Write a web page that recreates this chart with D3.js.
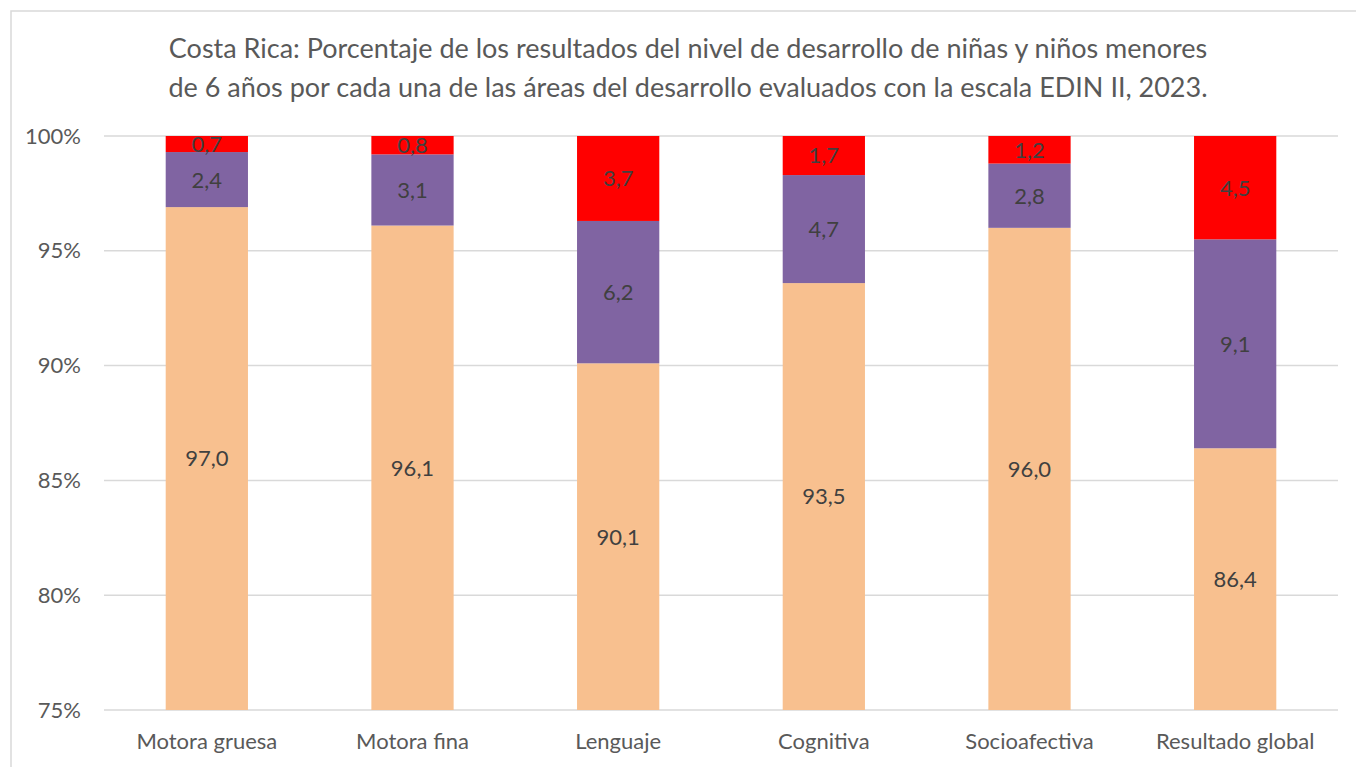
<!DOCTYPE html>
<html><head><meta charset="utf-8">
<script src="https://cdn.jsdelivr.net/npm/d3@7"></script>
<style>body{margin:0;background:#fff;}svg{display:block;font-family:Lato, "Open Sans", sans-serif;}</style>
</head><body>
<svg id="c" width="1356" height="767"></svg>
<script>
const categories = ["Motora gruesa","Motora fina","Lenguaje","Cognitiva","Socioafectiva","Resultado global"];
const seriesNames = ["Adecuado","Intermedio","Bajo"];
const adecuado = [97.0, 96.1, 90.1, 93.5, 96.0, 86.4];
const intermedio = [2.4, 3.1, 6.2, 4.7, 2.8, 9.1];
const bajo = [0.7, 0.8, 3.7, 1.7, 1.2, 4.5];
const colors = ["#F8C08F","#8064A2","#FF0000"];
const yTicks = [75, 80, 85, 90, 95, 100];
const titleLines = ["Costa Rica: Porcentaje de los resultados del nivel de desarrollo de niñas y niños menores",
                    "de 6 años por cada una de las áreas del desarrollo evaluados con la escala EDIN II, 2023."];

(function(){
const svg = d3.select("#c");
svg.append("rect").attr("x",11).attr("y",11).attr("width",1400).attr("height",800)
  .attr("fill","none").attr("stroke","#d9d9d9").attr("stroke-width",1.5);

const pl = 104, pr = 1338, pt = 136, pb = 710;
const x = d3.scaleBand().domain(categories).range([pl,pr]).paddingInner(0.6).paddingOuter(0.3);
const y = d3.scaleLinear().domain([75,100]).range([pb,pt]);

svg.append("text").attr("text-anchor","middle").attr("fill","#595959")
  .attr("font-size",27)
  .selectAll("tspan").data(titleLines).join("tspan")
  .attr("x",688).attr("y",(d,i)=>57.5+i*39).text(d=>d);

svg.append("g").selectAll("line").data(yTicks).join("line")
  .attr("x1",pl).attr("x2",pr).attr("y1",d=>y(d)).attr("y2",d=>y(d))
  .attr("stroke","#d9d9d9").attr("stroke-width",1.5);

const yAxis = d3.axisLeft(y).tickValues(yTicks).tickSize(0).tickPadding(23).tickFormat(d=>d+"%");
const gy = svg.append("g").attr("transform",`translate(${pl},0)`).call(yAxis);
gy.select(".domain").remove();
gy.selectAll("text").attr("font-size",22).attr("fill","#595959").attr("font-family","Lato, sans-serif");

const xAxis = d3.axisBottom(x).tickSize(0).tickPadding(23);
const gx = svg.append("g").attr("transform",`translate(0,${pb})`).call(xAxis);
gx.select(".domain").remove();
gx.selectAll("text").attr("font-size",22).attr("fill","#595959").attr("font-family","Lato, sans-serif");

const rows = categories.map((c,i)=>({cat:c, Adecuado:adecuado[i], Intermedio:intermedio[i], Bajo:bajo[i]}));
const stacked = d3.stack().keys(seriesNames).offset(d3.stackOffsetExpand)(rows);

svg.append("defs").append("clipPath").attr("id","plot")
  .append("rect").attr("x",pl).attr("y",pt).attr("width",pr-pl).attr("height",pb-pt);

const lo = d => Math.max(75, d[0]*100), hi = d => Math.min(100, d[1]*100);
const g = svg.append("g").attr("clip-path","url(#plot)");
stacked.forEach((s,si)=>{
  g.append("g").selectAll("rect").data(s).join("rect")
    .attr("x",d=>x(d.data.cat)).attr("width",x.bandwidth())
    .attr("y",d=>y(hi(d)))
    .attr("height",d=>y(lo(d))-y(hi(d)))
    .attr("fill",colors[si]);
});
const fmt = v=>v.toFixed(1).replace(".",",");
stacked.forEach((s,si)=>{
  svg.append("g").selectAll("text").data(s).join("text")
    .attr("x",d=>x(d.data.cat)+x.bandwidth()/2)
    .attr("y",d=>(y(hi(d))+y(lo(d)))/2)
    .attr("dy","0.36em").attr("text-anchor","middle")
    .attr("font-size",22).attr("fill","#404040")
    .text(d=>fmt(d.data[s.key]));
});
})();
</script>
</body></html>
